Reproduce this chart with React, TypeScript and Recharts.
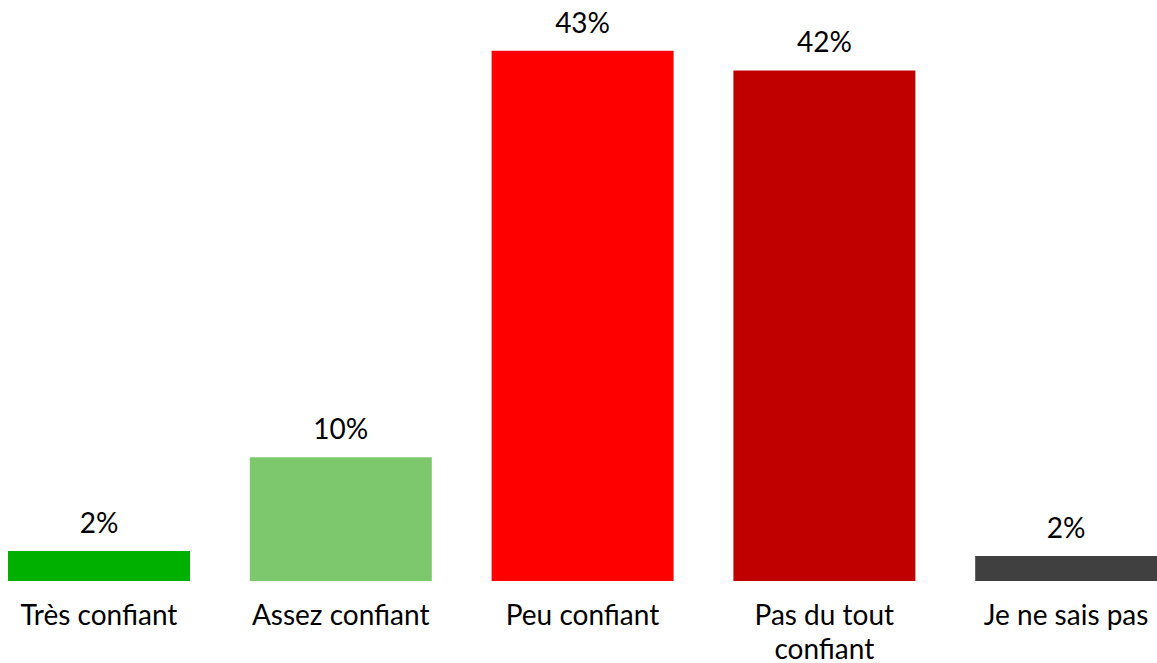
import React from 'react';
import { BarChart, Bar, XAxis, YAxis, Cell, LabelList } from 'recharts';

const categories = ['Très confiant', 'Assez confiant', 'Peu confiant', 'Pas du tout confiant', 'Je ne sais pas'];
const values = [2.45, 10.1, 43.3, 41.7, 2.04];
const labels = ['2%', '10%', '43%', '42%', '2%'];
const colors = ['#00B000', '#7DC86C', '#FF0000', '#C00000', '#404040'];

const data = categories.map((c, i) => ({ name: c, value: values[i], label: labels[i] }));

const FONT = 'Lato, "DejaVu Sans", sans-serif';

function wrap(s: string, max: number): string[] {
  const words = s.split(' ');
  const lines: string[] = [];
  let cur = '';
  for (const w of words) {
    const next = cur ? cur + ' ' + w : w;
    if (next.length > max && cur) {
      lines.push(cur);
      cur = w;
    } else {
      cur = next;
    }
  }
  if (cur) lines.push(cur);
  return lines;
}

const Tick = (props: any) => {
  const { x, y, payload } = props;
  const lines = wrap(String(payload.value), 14);
  return (
    <text x={x} y={y} textAnchor="middle" fontSize={28} fontFamily={FONT} fill="#000">
      {lines.map((l, i) => (
        <tspan key={i} x={x} y={y + 36 + i * 34}>
          {l}
        </tspan>
      ))}
    </text>
  );
};

export default function App() {
  return (
    <div style={{ position: 'fixed', left: 0, top: 0, width: 1157, height: 663, overflow: 'hidden', background: '#fff' }}>
      <div style={{ position: 'absolute', left: -22, top: 0 }}>
        <BarChart
          width={1209}
          height={663}
          data={data}
          margin={{ top: 30, right: 0, bottom: 0, left: 0 }}
          barSize={182}
        >
          <XAxis
            dataKey="name"
            axisLine={false}
            tickLine={false}
            height={82}
            interval={0}
            tick={<Tick />}
          />
          <YAxis hide domain={[0, 45]} />
          <Bar dataKey="value" isAnimationActive={false}>
            {data.map((d, i) => (
              <Cell key={d.name} fill={colors[i]} />
            ))}
            <LabelList
              dataKey="label"
              position="top"
              offset={18}
              fontSize={28}
              fontFamily={FONT}
              fill="#000"
            />
          </Bar>
        </BarChart>
      </div>
    </div>
  );
}
